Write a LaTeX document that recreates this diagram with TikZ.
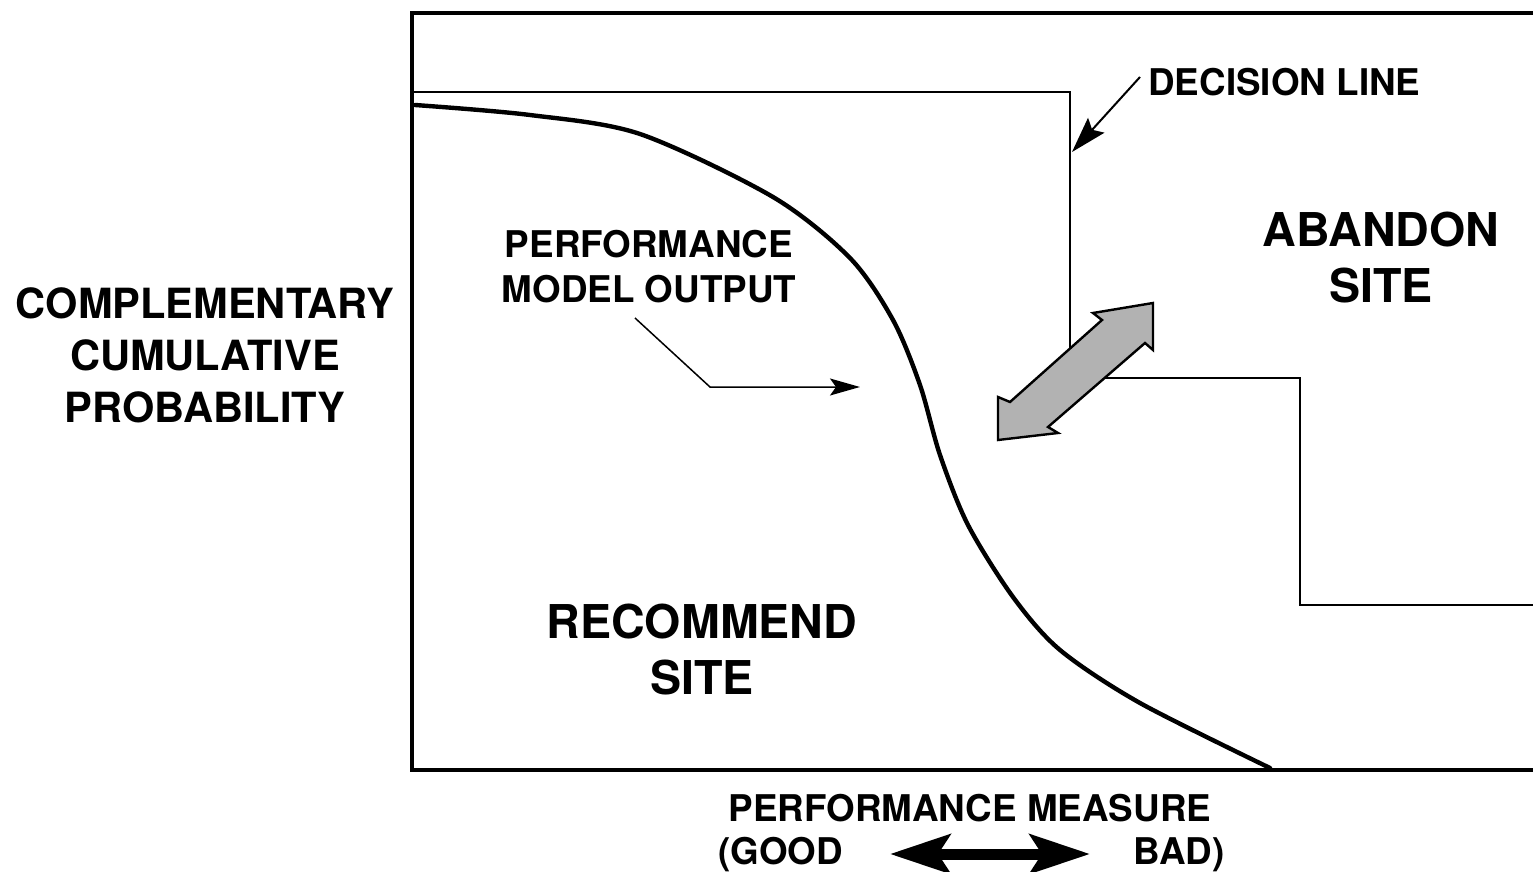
\documentclass[tikz,border=0pt]{standalone}
\usepackage{fontspec}
\setmainfont{TeX Gyre Heros}
\usetikzlibrary{arrows.meta}

\begin{document}
\begin{tikzpicture}[x=0.5pt,y=-0.5pt,
  lbl/.style={font=\bfseries\fontsize{18.4}{22.5}\selectfont, inner sep=0pt, align=center},
  big/.style={font=\bfseries\fontsize{23.3}{28}\selectfont, inner sep=0pt, align=center},
  axislbl/.style={font=\bfseries\fontsize{20.8}{26}\selectfont, inner sep=0pt, align=center},
  framerule/.style={line width=1.6pt, line join=miter},
  decisionrule/.style={line width=1.3pt, line join=miter},
  ccdf/.style={line width=2.2pt, line cap=round, line join=round},
  pointer/.style={line width=1pt, -{Stealth[length=18pt,width=11pt,inset=3pt]}},
  thinpointer/.style={line width=0.75pt, line join=miter, -{Stealth[length=15pt,width=8.5pt,inset=3pt]}},
  shadedarrow/.style={fill=black!30, draw=black, line width=1.2pt, line join=miter},
  scalearrow/.style={line width=5.5pt,
    {Stealth[length=30pt,width=19.5pt,inset=6pt]}-{Stealth[length=30pt,width=19.5pt,inset=6pt]}}
]
\useasboundingbox (0,0) rectangle (1533,872);
\clip (0,0) rectangle (1533,872);

% plot frame (open to the right)
\draw[framerule] (1545,13) -- (412,13) -- (412,770) -- (1545,770);

% stepped decision line
\draw[decisionrule] (412,92) -- (1070,92) -- (1070,378) -- (1300,378)
  -- (1300,605) -- (1545,605);

% performance model output curve
\draw[ccdf] plot[smooth, tension=0.5] coordinates {
  (415,105) (530,115) (640,134) (773,197) (850,258) (893,320) (920,385)
  (940,455) (968,525) (1013,597) (1060,650) (1140,703) (1270,768)};

% shaded two-headed arrow across the decision line
\path[shadedarrow] (1153,303) -- (1153,350) -- (1145,343) -- (1048,427)
  -- (1058,433) -- (998,440) -- (998,397) -- (1010,402) -- (1102,320)
  -- (1093,313) -- cycle;

% labels
\node[axislbl] (ccp) at (205,355) {COMPLEMENTARY\\CUMULATIVE\\PROBABILITY};
\node[lbl] (pmo) at (649,267) {PERFORMANCE\\MODEL OUTPUT};
\node[big] (abandon) at (1381,258) {ABANDON\\SITE};
\node[big] (recommend) at (702,650) {RECOMMEND\\SITE};
\node[lbl, anchor=west] (dl) at (1148,82) {DECISION LINE};
\node[lbl] (pm) at (970,808) {PERFORMANCE MEASURE};
\node[lbl, anchor=base west] (good) at (718,864) {(GOOD};
\node[lbl, anchor=base east] (bad) at (1225,864) {BAD)};

% pointer to the decision line
\coordinate (dlFrom) at (1140,77);
\coordinate (dlTo) at (1072,152);
\draw[pointer] (dlFrom) -- (dlTo);

% pointer to the model output curve
\coordinate (pmoFrom) at (635,318);
\coordinate (pmoBend) at (710,387);
\coordinate (pmoTo) at (860,387);
\draw[thinpointer] (pmoFrom) -- (pmoBend) -- (pmoTo);

% good/bad scale arrow
\coordinate (scaleL) at (890,854);
\coordinate (scaleR) at (1090,854);
\draw[scalearrow] (scaleL) -- (scaleR);
\end{tikzpicture}
\end{document}
